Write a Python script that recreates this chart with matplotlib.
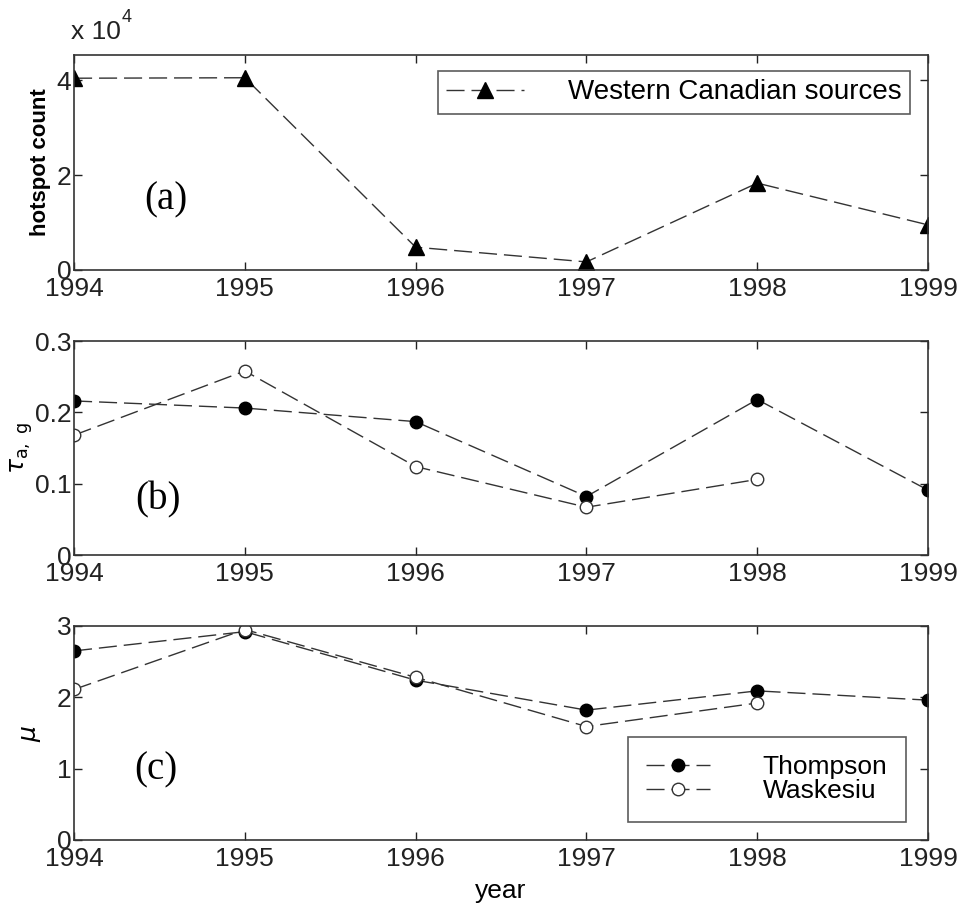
import matplotlib
matplotlib.use("Agg")
import matplotlib.pyplot as plt
from matplotlib.ticker import FuncFormatter

years = [1994, 1995, 1996, 1997, 1998, 1999]
hotspots = [40400, 40500, 4800, 1700, 18300, 9500]
tau_thompson = [0.216, 0.206, 0.187, 0.082, 0.218, 0.091]
tau_waskesiu = [0.168, 0.258, 0.124, 0.067, 0.106]
mu_thompson = [2.65, 2.92, 2.24, 1.82, 2.09, 1.96]
mu_waskesiu = [2.11, 2.95, 2.28, 1.59, 1.92]
xticklabels = ["1994", "1995", "1996", "1997", "1998", "1999"]

plt.rcParams['font.family'] = ['Liberation Sans', 'DejaVu Sans']

fig = plt.figure(figsize=(9.59, 9.13), dpi=100)
L, W = 0.0772, 0.8905
ax_a = fig.add_axes([L, 0.7043, W, 0.2355])
ax_b = fig.add_axes([L, 0.3921, W, 0.2344])
ax_c = fig.add_axes([L, 0.0800, W, 0.2344])

ls = (0, (13, 5))
lc = '#333333'
lw = 1.0
tick_fs = 19

def style(ax):
    ax.set_xlim(1994, 1999)
    ax.set_xticks(years)
    ax.set_xticklabels(xticklabels)
    ax.tick_params(direction='in', top=True, right=True, length=6, width=1,
                   labelsize=tick_fs, colors='#222222')
    ax.tick_params(axis='x', pad=5)
    ax.tick_params(axis='y', pad=2)
    for s in ax.spines.values():
        s.set_linewidth(1.2)
        s.set_color('#333333')

# (a)
ax_a.plot(years, hotspots, linestyle=ls, color=lc, lw=lw, marker='^',
          ms=11, mfc='black', mec='black', label='Western Canadian sources')
ax_a.set_ylim(0, 45300)
ax_a.set_yticks([0, 20000, 40000])
ax_a.yaxis.set_major_formatter(FuncFormatter(lambda v, p: f"{v/1e4:.0f}"))
style(ax_a)
ax_a.set_ylabel('hotspot count', fontsize=16, fontweight='bold', labelpad=4)
fig.text(0.074, 0.952, 'x 10', fontsize=19, ha='left', va='bottom', color='#222222')
fig.text(0.127, 0.971, '4', fontsize=13, ha='left', va='bottom', color='#222222')
ax_a.text(1994.54, 14700, '(a)', family='Liberation Serif', fontsize=28,
          ha='center', va='center')
leg = ax_a.legend(loc='upper right', bbox_to_anchor=(0.979, 0.925), fontsize=20,
                  handlelength=2.8, frameon=True, fancybox=False, edgecolor='#333333',
                  borderpad=0.3, handletextpad=1.6, borderaxespad=0)
leg.get_frame().set_linewidth(1.2)

# (b)
ax_b.plot(years, tau_thompson, linestyle=ls, color=lc, lw=lw, marker='o',
          ms=9, mfc='black', mec='black')
ax_b.plot(years[:5], tau_waskesiu, linestyle=ls, color=lc, lw=lw, marker='o',
          ms=9, mfc='white', mec='#333333')
ax_b.set_ylim(0, 0.3)
ax_b.set_yticks([0, 0.1, 0.2, 0.3])
ax_b.yaxis.set_major_formatter(FuncFormatter(lambda v, p: "0" if v == 0 else f"{v:.1f}"))
style(ax_b)
ax_b.set_ylabel(r'$\tau_{\mathrm{a,\ g}}$', fontsize=18, labelpad=0)
ax_b.text(1994.49, 0.077, '(b)', family='Liberation Serif', fontsize=28,
          ha='center', va='center')

# (c)
ax_c.plot(years, mu_thompson, linestyle=ls, color=lc, lw=lw, marker='o',
          ms=9, mfc='black', mec='black', label='Thompson')
ax_c.plot(years[:5], mu_waskesiu, linestyle=ls, color=lc, lw=lw, marker='o',
          ms=9, mfc='white', mec='#333333', label='Waskesiu')
ax_c.set_ylim(0, 3)
ax_c.set_yticks([0, 1, 2, 3])
style(ax_c)
ax_c.set_ylabel(r'$\mu$', fontsize=18, labelpad=10)
ax_c.set_xlabel('year', fontsize=19, labelpad=6)
ax_c.text(1994.48, 0.98, '(c)', family='Liberation Serif', fontsize=28,
          ha='center', va='center')
leg2 = ax_c.legend(loc='lower right', bbox_to_anchor=(0.974, 0.085), fontsize=19,
                   handlelength=2.4, frameon=True, fancybox=False, edgecolor='#333333',
                   borderpad=0.7, handletextpad=2.0, labelspacing=0.0, borderaxespad=0)
leg2.get_frame().set_linewidth(1.2)

fig.savefig('out.png', dpi=100)
